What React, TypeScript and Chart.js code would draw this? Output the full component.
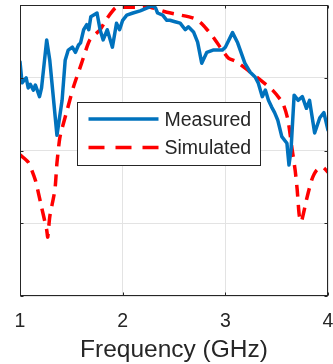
import React, { useEffect, useRef } from "react";
import { Chart, registerables } from "chart.js";

Chart.register(...registerables);

// ---- data (frequency in GHz, level in dB) ----
const measuredFreq = [1.0, 1.02, 1.06, 1.08, 1.1, 1.13, 1.15, 1.19, 1.21, 1.26, 1.29, 1.36, 1.41, 1.44, 1.47, 1.51, 1.54, 1.57, 1.59, 1.62, 1.65, 1.67, 1.69, 1.75, 1.78, 1.81, 1.85, 1.9, 1.94, 1.97, 2.0, 2.04, 2.1, 2.17, 2.24, 2.29, 2.32, 2.34, 2.39, 2.43, 2.46, 2.51, 2.56, 2.61, 2.64, 2.69, 2.73, 2.77, 2.82, 2.88, 2.97, 3.0, 3.07, 3.12, 3.19, 3.24, 3.29, 3.32, 3.36, 3.39, 3.42, 3.45, 3.48, 3.51, 3.55, 3.6, 3.62, 3.64, 3.67, 3.71, 3.75, 3.79, 3.82, 3.87, 3.92, 3.96, 4.0];
const measuredLevel = [-7.8, -10.7, -10.0, -11.4, -10.9, -11.7, -11.0, -12.6, -11.4, -4.8, -7.6, -17.9, -13.1, -7.6, -6.2, -5.8, -6.5, -5.5, -5.2, -3.4, -2.7, -3.4, -1.6, -1.1, -3.4, -4.8, -3.4, -5.8, -2.5, -3.4, -2.1, -1.4, -1.1, -0.8, -0.4, -0.1, -0.4, -1.1, -1.4, -2.1, -2.1, -2.3, -2.5, -3.4, -3.0, -3.7, -5.1, -8.0, -6.5, -6.2, -6.2, -5.8, -3.8, -5.2, -8.0, -9.2, -9.9, -10.7, -12.6, -11.7, -13.1, -14.0, -14.8, -15.8, -18.1, -19.0, -22.0, -19.9, -12.4, -13.1, -12.6, -14.2, -13.1, -17.6, -15.5, -14.8, -17.2];

const simulatedFreq = [1.0, 1.08, 1.15, 1.21, 1.26, 1.27, 1.29, 1.34, 1.36, 1.39, 1.46, 1.52, 1.6, 1.68, 1.78, 1.85, 1.93, 2.0, 2.17, 2.27, 2.43, 2.69, 2.78, 2.88, 2.97, 3.03, 3.11, 3.24, 3.34, 3.46, 3.56, 3.61, 3.65, 3.68, 3.7, 3.72, 3.74, 3.79, 3.84, 3.89, 3.95, 4.0];
const simulatedLevel = [-20.6, -21.6, -24.1, -27.8, -30.9, -31.9, -29.1, -25.4, -21.7, -18.1, -14.4, -11.3, -8.0, -4.8, -3.4, -1.8, -0.4, -0.3, -0.3, -0.3, -1.0, -1.8, -2.7, -4.4, -6.2, -7.3, -7.8, -9.2, -10.3, -11.7, -13.5, -15.8, -19.8, -22.7, -25.4, -28.9, -29.8, -26.8, -24.1, -22.7, -22.3, -23.0];

const seriesNames = ["Measured", "Simulated"];
const xTicks = [1, 2, 3, 4];
const xTitle = "Frequency (GHz)";
const yMin = -40;
const yMax = 0;
const yStep = 10;

const AXIS = "#262626";
const GRID = "#e3e3e3";
const BLUE = "#0072BD";
const RED = "#FF0000";
const FONT = "'Liberation Sans', Arial, Helvetica, sans-serif";

const framePlugin = {
  id: "frame",
  afterDraw(chart: any) {
    const { ctx, chartArea: a, scales } = chart;
    const L = Math.round(a.left) + 0.5;
    const T = Math.round(a.top) + 0.5;
    const R = Math.round(a.right) - 0.5;
    const B = Math.round(a.bottom) - 0.5;
    ctx.save();
    ctx.strokeStyle = AXIS;
    ctx.lineWidth = 1;
    ctx.strokeRect(L, T, R - L, B - T);
    // inner tick marks
    const tl = 3;
    ctx.beginPath();
    for (const v of xTicks) {
      const x = Math.round(scales.x.getPixelForValue(v)) + 0.5;
      ctx.moveTo(x, B); ctx.lineTo(x, B - tl);
      ctx.moveTo(x, T); ctx.lineTo(x, T + tl);
    }
    for (let v = yMin; v <= yMax; v += yStep) {
      const y = Math.round(scales.y.getPixelForValue(v)) + 0.5;
      ctx.moveTo(L, y); ctx.lineTo(L + tl, y);
      ctx.moveTo(R, y); ctx.lineTo(R - tl, y);
    }
    ctx.stroke();

    // legend box
    const bx = Math.round(a.left + 57) + 0.5;
    const by = Math.round(a.top + 97) + 0.5;
    const bw = 183;
    const bh = 63;
    ctx.fillStyle = "#ffffff";
    ctx.fillRect(bx, by, bw, bh);
    ctx.strokeStyle = AXIS;
    ctx.lineWidth = 1;
    ctx.strokeRect(bx, by, bw, bh);
    const rows = [
      { y: by + 16.5, color: BLUE, dash: [] as number[] },
      { y: by + 45, color: RED, dash: [16, 11] },
    ];
    rows.forEach((r, i) => {
      ctx.beginPath();
      ctx.setLineDash(r.dash);
      ctx.strokeStyle = r.color;
      ctx.lineWidth = 3.5;
      ctx.moveTo(bx + 11, r.y);
      ctx.lineTo(bx + 81, r.y);
      ctx.stroke();
      ctx.setLineDash([]);
      ctx.fillStyle = AXIS;
      ctx.font = `19.5px ${FONT}`;
      ctx.textBaseline = "middle";
      ctx.textAlign = "left";
      ctx.fillText(seriesNames[i], bx + 87, r.y + 1.5);
    });
    ctx.restore();
  },
};

export default function App() {
  const ref = useRef<HTMLCanvasElement | null>(null);
  useEffect(() => {
    if (!ref.current) return;
    const chart = new Chart(ref.current, {
      type: "line",
      data: {
        datasets: [
          {
            label: seriesNames[0],
            data: measuredFreq.map((f, i) => ({ x: f, y: measuredLevel[i] })),
            borderColor: BLUE,
            borderWidth: 3.5,
            pointRadius: 0,
            tension: 0,
            borderJoinStyle: "round",
            borderCapStyle: "round",
          },
          {
            label: seriesNames[1],
            data: simulatedFreq.map((f, i) => ({ x: f, y: simulatedLevel[i] })),
            borderColor: RED,
            borderWidth: 3.5,
            borderDash: [12, 8],
            pointRadius: 0,
            tension: 0.2,
          },
        ],
      },
      options: {
        responsive: false,
        animation: false,
        layout: { padding: { left: 0, right: 5, top: 5, bottom: 0 } },
        plugins: { legend: { display: false }, tooltip: { enabled: false } },
        scales: {
          x: {
            type: "linear",
            min: 1,
            max: 4,
            afterBuildTicks: (s: any) => {
              s.ticks = xTicks.map((v) => ({ value: v }));
            },
            ticks: { color: AXIS, font: { family: FONT, size: 19.5 }, padding: 14, maxRotation: 0 },
            grid: { color: GRID, drawTicks: false, lineWidth: 1 },
            border: { display: false },
            title: { display: true, text: xTitle, color: AXIS, font: { family: FONT, size: 24.5 }, padding: { top: 0, bottom: -1 } },
            afterFit: (s: any) => {
              s.height = 68;
              s.paddingLeft = 0;
              s.paddingRight = 0;
            },
          },
          y: {
            type: "linear",
            min: yMin,
            max: yMax,
            ticks: { display: false, stepSize: yStep },
            grid: { color: GRID, drawTicks: false, lineWidth: 1 },
            border: { display: false },
            afterFit: (s: any) => {
              s.width = 20;
              s.paddingTop = 0;
              s.paddingBottom = 0;
            },
          },
        },
      },
      plugins: [framePlugin],
    } as any);
    return () => chart.destroy();
  }, []);
  return (
    <div style={{ position: "absolute", left: 0, top: 0, width: 333, height: 364, background: "#fff" }}>
      <canvas ref={ref} width={333} height={364} style={{ display: "block" }} />
    </div>
  );
}
